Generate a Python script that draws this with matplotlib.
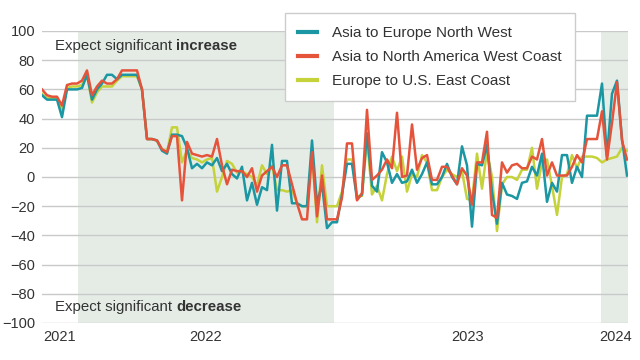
import matplotlib
matplotlib.use("Agg")
import matplotlib.pyplot as plt
import numpy as np

plt.rcParams["font.family"] = ["Liberation Sans", "DejaVu Sans"]

# Survey balance readings, one value per reporting period (index 0..117)
asia_europe_nw = [
    56, 53, 53, 53, 41, 60, 60, 60, 61, 70, 53, 60, 64, 70, 70, 67, 70, 70, 70, 70, 60, 26, 26, 25,
    18, 16, 29, 29, 28, 20, 6, 9, 6, 10, 8, 13, 4, 9, 2, -1, 7, -16, -4, -19, -7, -9,
    22, -23, 11, 11, -18, -18, -20, -20, 25, -18, -5, -35, -31, -31, -12, 9, 9, -15, -12, 30, -6,
    -10, 17, 10, -4, 2, -4, -3, 5, -4, 2, 10, -5, -5, 0, 9, 0, -5, 21, 8, -34, 9, 8, 22, -10, -32, -4, -12, -13,
    -15, -4, -3, 7, 1, 16, -17, -4, -10, 15, 15, -4, 7, 0, 42, 42, 42, 64, 14, 57, 66, 26, 1,
]
asia_na_west = [
    60, 56, 55, 55, 49, 63, 64, 64, 66, 73, 56, 62, 66, 64, 64, 67, 73, 73, 73, 73, 60, 26, 26, 25,
    19, 17, 28, 28, -16, 24, 16, 15, 14, 15, 14, 26, 8, -5, 5, 4, 4, 0, 6, -10, 1, 4,
    7, 0, 8, 8, -5, -18, -29, -29, 17, -27, 1, -29, -29, -29, -14, 23, 23, -16, -11, 46, -2,
    1, 5, 12, 6, 44, 0, 1, 36, 5, 13, 15, -2, -2, 7, 7, 1, -5, 6, 1, -19, 10, 10, 31, -26, -28, 10, 3, 8,
    9, 6, 6, 14, 12, 26, 1, 10, 1, 1, 1, 7, 15, 10, 26, 26, 26, 45, 12, 37, 65, 25, 12,
]
europe_us_east = [
    57, 54, 54, 54, 46, 61, 62, 62, 63, 70, 51, 58, 62, 62, 62, 66, 69, 69, 69, 69, 60, 26, 26, 25,
    19, 17, 34, 34, 10, 18, 13, 12, 10, 12, 13, -10, 0, 11, 9, 3, 4, 2, 0, -6, 8, 2,
    8, -9, -9, -10, -9, -18, -20, -20, 17, -31, 8, -20, -20, -20, -10, 12, 12, -13, -13, 26, -12,
    -6, -16, 2, 14, 4, 14, -10, 2, 0, 15, 10, -9, -9, 0, 5, 2, 0, 4, -15, -16, 16, -8, 18, 0, -37, -5, 0, 0,
    -2, 5, 5, 20, -8, 10, 12, -6, -26, 0, 2, 15, 6, 14, 14, 14, 13, 10, 12, 13, 14, 20, 18,
]
year_labels = ["2021", "2022", "2023", "2024"]
year_pos = [3.6, 32.8, 85.2, 114.8]
shaded_periods = [(7.2, 58.4), (111.8, 117.2)]

teal = "#1a97a2"
red = "#e5533b"
yellow = "#c5d23a"
text_col = "#333333"

x = np.arange(len(asia_europe_nw))

fig = plt.figure(figsize=(6.4, 3.6), dpi=100)
ax = fig.add_axes([42 / 640, 1 - 323 / 360, 586 / 640, 292 / 360])

for start, end in shaded_periods:
    ax.axvspan(start, end, color="#e5ece6", lw=0, zorder=0)

for yv in range(-100, 101, 20):
    ax.axhline(yv, color="#c9c9c9", lw=1.0, zorder=1)

ax.plot(x, europe_us_east, color=yellow, lw=1.8, zorder=3, label="Europe to U.S. East Coast")
ax.plot(x, asia_europe_nw, color=teal, lw=1.8, zorder=4, label="Asia to Europe North West")
ax.plot(x, asia_na_west, color=red, lw=1.8, zorder=5, label="Asia to North America West Coast")

ax.set_xlim(0, 117.2)
ax.set_ylim(-100, 100)
ax.set_yticks(range(-100, 101, 20))
ax.set_xticks(year_pos)
ax.set_xticklabels(year_labels)
ax.tick_params(length=0, labelsize=10.5, colors=text_col)
ax.tick_params(axis="y", pad=5)
ax.tick_params(axis="x", pad=5)
for s in ax.spines.values():
    s.set_visible(False)

t1 = ax.text(2.6, 89.5, "Expect significant ", fontsize=10.8, color=text_col, va="center", zorder=6)
ax.annotate("increase", xy=(1, 0), xycoords=t1, va="bottom", fontsize=10.8,
            fontweight="bold", color=text_col)
t2 = ax.text(2.6, -89, "Expect significant ", fontsize=10.8, color=text_col, va="center", zorder=6)
ax.annotate("decrease", xy=(1, 0), xycoords=t2, va="bottom", fontsize=10.8,
            fontweight="bold", color=text_col)

handles, labels = ax.get_legend_handles_labels()
order = [1, 2, 0]
leg = ax.legend([handles[i] for i in order], [labels[i] for i in order],
                loc="upper left", bbox_to_anchor=(285 / 640, 1 - 13 / 360),
                bbox_transform=fig.transFigure, fontsize=11, frameon=True,
                fancybox=False, framealpha=1, edgecolor="#cccccc",
                handlelength=1.25, handletextpad=1.0, borderpad=0.85,
                labelspacing=0.66, borderaxespad=0)
leg.get_frame().set_linewidth(1.0)
leg.set_zorder(10)
for txt in leg.get_texts():
    txt.set_color(text_col)
for ln in leg.get_lines():
    ln.set_linewidth(3)

fig.savefig("out.png", dpi=100)
